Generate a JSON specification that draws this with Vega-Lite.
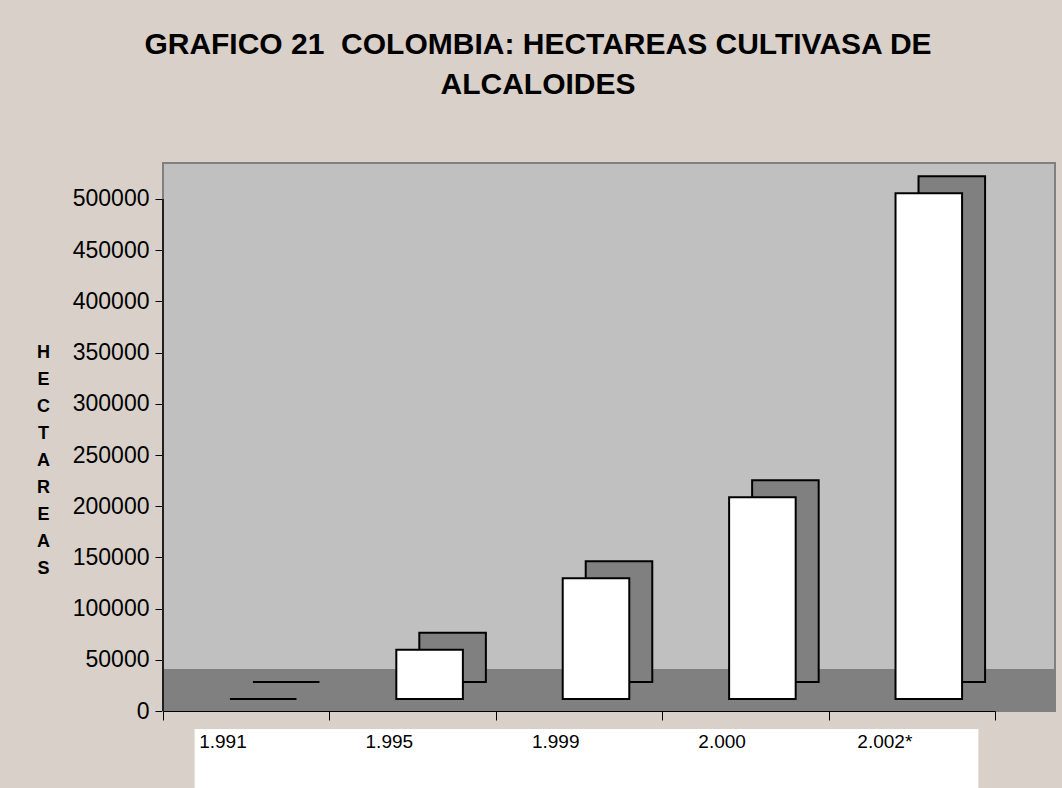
{
  "$schema": "https://vega.github.io/schema/vega-lite/v6.json",
  "width": 892,
  "height": 625,
  "autosize": "none",
  "padding": {"left": 163, "top": 163, "right": 7, "bottom": 0},
  "background": "#D8D0C9",
  "config": {"view": {"stroke": null}, "font": "Liberation Sans"},
  "title": {
    "text": ["GRAFICO 21\u00a0\u00a0COLOMBIA: HECTAREAS CULTIVASA DE", "ALCALOIDES"],
    "font": "Liberation Sans",
    "fontSize": 30,
    "fontWeight": "bold",
    "lineHeight": 40,
    "anchor": "middle",
    "dx": -71,
    "offset": 62,
    "color": "black"
  },
  "data": {
    "values": [
      {"anio": "1.991", "hectareas": 0},
      {"anio": "1.995", "hectareas": 48000},
      {"anio": "1.999", "hectareas": 118000},
      {"anio": "2.000", "hectareas": 197000},
      {"anio": "2.002*", "hectareas": 494000}
    ]
  },
  "layer": [
    {
      "data": {"values": [{}]},
      "mark": {"type": "rect", "fill": "#C0C0C0", "stroke": "#808080", "strokeWidth": 2},
      "encoding": {
        "y": {"datum": 0, "type": "quantitative", "scale": {"domain": [-75195, 535156], "nice": false, "zero": false},
          "axis": {
            "values": [0, 50000, 100000, 150000, 200000, 250000, 300000, 350000, 400000, 450000, 500000],
            "format": "d",
            "domain": false,
            "grid": false,
            "ticks": true,
            "tickSize": 8,
            "tickColor": "black",
            "labelFont": "Liberation Sans",
            "labelFontSize": 23,
            "labelColor": "black",
            "labelPadding": 6,
            "title": ["H", "E", "C", "T", "A", "R", "E", "A", "S"],
            "titleAngle": 0,
            "titleFont": "Liberation Sans",
            "titleFontWeight": "bold",
            "titleFontSize": 18,
            "titleLineHeight": 27,
            "titleColor": "black",
            "titleX": -120,
            "titleY": 180,
            "titleAlign": "center",
            "titleBaseline": "top"
          }
        },
        "y2": {"datum": 535156}
      }
    },
    {
      "data": {"values": [{}]},
      "mark": {"type": "rect", "fill": "#808080"},
      "encoding": {
        "y": {"datum": 0, "type": "quantitative"},
        "y2": {"datum": 41000}
      }
    },
    {
      "data": {"values": [{}]},
      "mark": {"type": "rect", "fill": "white"},
      "encoding": {
        "x": {"datum": "1.991", "type": "nominal", "bandPosition": 0.19},
        "x2": {"datum": "2.002*", "bandPosition": 0.9},
        "y": {"datum": -17600, "type": "quantitative"},
        "y2": {"datum": -75195}
      }
    },
    {
      "data": {"values": [{}]},
      "mark": {"type": "rule", "color": "black", "strokeWidth": 1.5},
      "encoding": {
        "x": {"datum": "1.991", "type": "nominal", "bandPosition": 0},
        "y": {"datum": 0, "type": "quantitative"},
        "y2": {"datum": 500000}
      }
    },
    {
      "mark": {"type": "bar", "fill": "#808080", "stroke": "black", "strokeWidth": 2, "width": {"band": 0.4}, "xOffset": 40, "x2Offset": 40, "yOffset": -29, "y2Offset": -29},
      "encoding": {
        "x": {"field": "anio", "type": "nominal", "sort": null},
        "y": {"field": "hectareas", "type": "quantitative"}
      }
    },
    {
      "mark": {"type": "bar", "fill": "white", "stroke": "black", "strokeWidth": 2, "width": {"band": 0.4}, "xOffset": 17, "x2Offset": 17, "yOffset": -12, "y2Offset": -12},
      "encoding": {
        "x": {
          "field": "anio", "type": "nominal", "sort": null,
          "scale": {"domain": ["1.991", "1.995", "1.999", "2.000", "2.002*"], "range": [0, 832], "paddingInner": 0, "paddingOuter": 0},
          "axis": {
            "orient": "bottom",
            "offset": -77,
            "tickBand": "extent",
            "tickSize": 9,
            "tickColor": "black",
            "domainColor": "black",
            "labelAngle": 0,
            "labelFont": "Liberation Sans",
            "labelFontSize": 19,
            "labelColor": "black",
            "labelPadding": 21,
            "title": null
          }
        },
        "y": {"field": "hectareas", "type": "quantitative"}
      }
    }
  ]
}
